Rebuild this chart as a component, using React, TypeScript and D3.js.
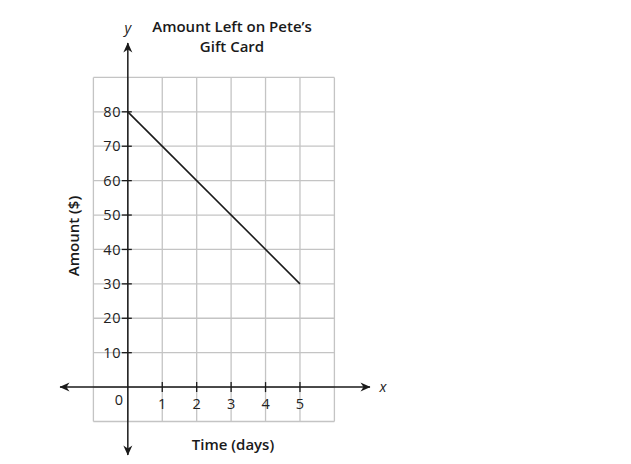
import React from "react";
import * as d3 from "d3";

const days = [0, 5];
const amounts = [80, 30];
const xTicks = [1, 2, 3, 4, 5];
const yTicks = [10, 20, 30, 40, 50, 60, 70, 80];
const xGrid = [-1, 0, 1, 2, 3, 4, 5, 6];
const yGrid = [-10, 0, 10, 20, 30, 40, 50, 60, 70, 80, 90];
const title = ["Amount Left on Pete\u2019s", "Gift Card"];
const xTitle = "Time (days)";
const yTitle = "Amount ($)";

export default function App() {
  const W = 631, H = 464;
  const x = d3.scaleLinear().domain([-1, 6]).range([93.4, 334.4]);
  const y = d3.scaleLinear().domain([-10, 90]).range([421.5, 77.4]);
  const line = d3.line<number>().x((d, i) => x(days[i])).y((d) => y(d));
  const font = "'Open Sans', 'Noto Sans', sans-serif";
  const ax = "#1a1a1a";
  const x0 = x(0), y0 = y(0);
  return (
    <svg width={W} height={H} style={{ position: "absolute", left: 0, top: 0, background: "#fff" }}>
      <defs>
        <marker id="arr" viewBox="0 0 10 10" refX="9.5" refY="5" markerWidth="11" markerHeight="10" markerUnits="userSpaceOnUse" orient="auto">
          <path d="M0,0.5 L10,5 L0,9.5 L3,5 Z" fill={ax} />
        </marker>
      </defs>
      <g stroke="#c4c4c4" strokeWidth={1.3}>
        {xGrid.map((v) => (
          <line key={"gx" + v} x1={x(v)} x2={x(v)} y1={y(90)} y2={y(-10)} />
        ))}
        {yGrid.map((v) => (
          <line key={"gy" + v} x1={x(-1)} x2={x(6)} y1={y(v)} y2={y(v)} />
        ))}
      </g>
      {/* axes with arrows */}
      <line x1={x0} y1={y0} x2={370} y2={y0} stroke={ax} strokeWidth={1.5} markerEnd="url(#arr)" />
      <line x1={x0} y1={y0} x2={60} y2={y0} stroke={ax} strokeWidth={1.5} markerEnd="url(#arr)" />
      <line x1={x0} y1={y0} x2={x0} y2={43} stroke={ax} strokeWidth={1.5} markerEnd="url(#arr)" />
      <line x1={x0} y1={y0} x2={x0} y2={455} stroke={ax} strokeWidth={1.5} markerEnd="url(#arr)" />
      {/* ticks */}
      {yTicks.map((v) => (
        <g key={"yt" + v}>
          <line x1={x0 - 6} x2={x0 + 4} y1={y(v)} y2={y(v)} stroke={ax} strokeWidth={1.3} />
          <text x={x0 - 6.5} y={y(v)} dy="0.35em" textAnchor="end" fontFamily={font} fontSize={14.5} letterSpacing={0.8} fill="#222">
            {v}
          </text>
        </g>
      ))}
      {xTicks.map((v) => (
        <g key={"xt" + v}>
          <line x1={x(v)} x2={x(v)} y1={y0 - 5} y2={y0 + 5} stroke={ax} strokeWidth={1.3} />
          <text x={x(v)} y={y0 + 17} dy="0.35em" textAnchor="middle" fontFamily={font} fontSize={14.5} fill="#222">
            {v}
          </text>
        </g>
      ))}
      <text x={x0 - 9} y={y0 + 13} dy="0.35em" textAnchor="middle" fontFamily={font} fontSize={14.5} fill="#222">
        0
      </text>
      {/* data line */}
      <path d={line(amounts) || ""} fill="none" stroke={ax} strokeWidth={1.6} />
      {/* axis letters */}
      <text x={383} y={y0} dy="0.35em" textAnchor="middle" fontFamily={font} fontStyle="italic" fontSize={14.5} fill="#222">
        x
      </text>
      <text x={x0} y={28} dy="0.35em" textAnchor="middle" fontFamily={font} fontStyle="italic" fontSize={14.5} fill="#222">
        y
      </text>
      {/* titles */}
      {title.map((t, i) => (
        <text key={t} x={232} y={27 + i * 19.5} dy="0.35em" textAnchor="middle" fontFamily={font} fontWeight={600} fontSize={15} fill="#1a1a1a">
          {t}
        </text>
      ))}
      <text x={233} y={445} dy="0.35em" textAnchor="middle" fontFamily={font} fontWeight={600} fontSize={15} fill="#1a1a1a">
        {xTitle}
      </text>
      <text transform={`translate(74,236) rotate(-90)`} dy="0.35em" textAnchor="middle" fontFamily={font} fontWeight={600} fontSize={15} fill="#1a1a1a">
        {yTitle}
      </text>
    </svg>
  );
}
